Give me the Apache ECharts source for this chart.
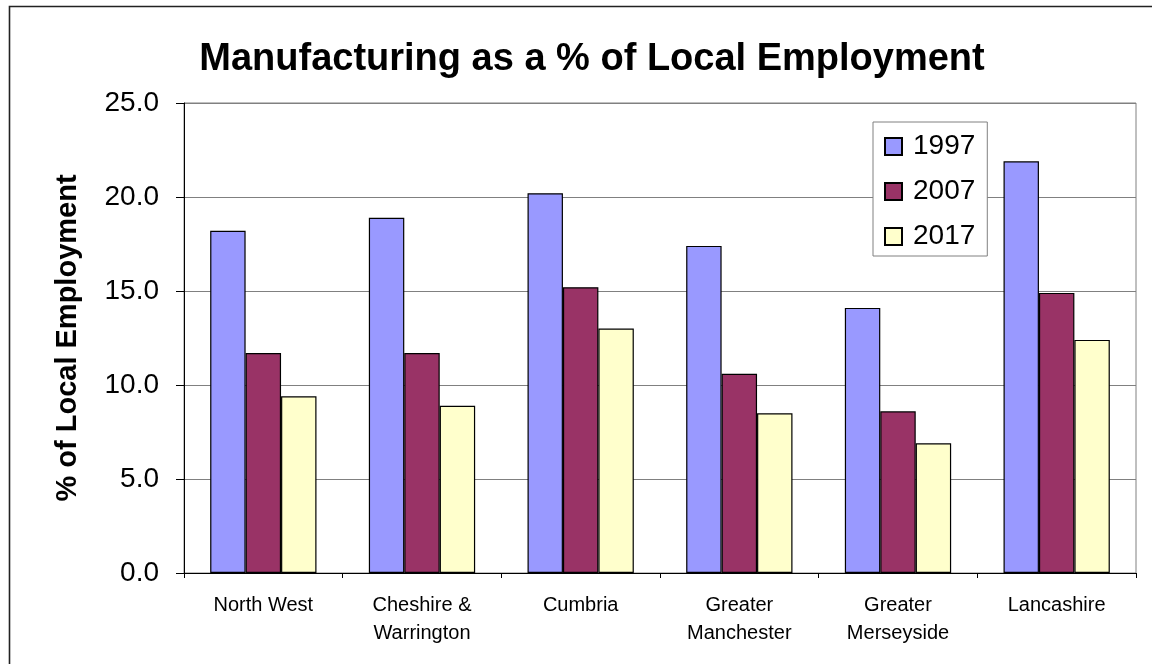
<!DOCTYPE html>
<html>
<head>
<meta charset="utf-8">
<script src="https://cdn.jsdelivr.net/npm/echarts@6/dist/echarts.min.js"></script>
<style>
  html, body { margin: 0; padding: 0; background: #fff; }
  #chart { width: 1152px; height: 664px; }
</style>
</head>
<body>
<div id="chart"></div>
<script>
// Regions and manufacturing share of employment (%)
const categories = ['North West', 'Cheshire &\nWarrington', 'Cumbria', 'Greater\nManchester', 'Greater\nMerseyside', 'Lancashire'];
const seriesNames = ['1997', '2007', '2017'];
const values1997 = [18.2, 18.9, 20.2, 17.4, 14.1, 21.9];
const values2007 = [11.7, 11.7, 15.2, 10.6, 8.6, 14.9];
const values2017 = [9.4, 8.9, 13.0, 8.5, 6.9, 12.4];
const yTicks = { min: 0, max: 25, interval: 5 };

const FONT = 'Liberation Sans, Arial, sans-serif';
const colors = ['#9999FF', '#993366', '#FFFFCC'];
const seriesValues = [values1997, values2007, values2017];

const chart = echarts.init(document.getElementById('chart'), null, { renderer: 'canvas' });

chart.setOption({
  backgroundColor: '#ffffff',
  animation: false,
  title: {
    text: 'Manufacturing as a % of Local Employment',
    left: 587,
    top: 36,
    textAlign: 'center',
    textStyle: { fontFamily: FONT, fontSize: 38, fontWeight: 'bold', color: '#000' }
  },
  legend: {
    orient: 'vertical',
    left: 873,
    top: 122,
    padding: [10, 12, 5, 11],
    itemWidth: 17,
    itemHeight: 17,
    itemGap: 16,
    backgroundColor: '#fff',
    borderColor: '#808080',
    borderWidth: 1,
    icon: 'rect',
    textStyle: { fontFamily: FONT, fontSize: 28, color: '#000', lineHeight: 29, padding: [0, 0, 0, 6] },
    data: seriesNames
  },
  grid: {
    left: 184, right: 16, top: 103, bottom: 91,
    show: true, borderColor: '#808080', borderWidth: 1,
    containLabel: false
  },
  xAxis: {
    type: 'category',
    data: categories,
    axisLine: { lineStyle: { color: '#000', width: 1 } },
    axisTick: { show: true, interval: 0, length: 5, alignWithLabel: false, lineStyle: { color: '#000' } },
    axisLabel: { interval: 0, margin: 18, fontFamily: FONT, fontSize: 20, color: '#000', lineHeight: 28 },
    splitLine: { show: false }
  },
  yAxis: {
    type: 'value',
    min: yTicks.min, max: yTicks.max, interval: yTicks.interval,
    name: '% of Local Employment',
    nameLocation: 'middle',
    nameGap: 102,
    nameTextStyle: { fontFamily: FONT, fontSize: 29, fontWeight: 'bold', color: '#000' },
    axisLine: { show: true, lineStyle: { color: '#000', width: 1 } },
    axisTick: { show: true, length: 8, lineStyle: { color: '#000' } },
    axisLabel: { margin: 25, fontFamily: FONT, fontSize: 28, color: '#000', formatter: v => v.toFixed(1) },
    splitLine: { show: true, lineStyle: { color: '#808080', width: 1 } }
  },
  series: seriesNames.map((name, i) => ({
    name,
    type: 'bar',
    data: seriesValues[i],
    barGap: '0%',
    barCategoryGap: '33%',
    itemStyle: { color: colors[i], borderColor: '#000', borderWidth: 1.2 }
  })),
  graphic: [{
    type: 'rect',
    shape: { x: 9.5, y: 6.5, width: 1200, height: 700 },
    style: { fill: 'none', stroke: '#222', lineWidth: 1.6 },
    silent: true
  }]
});
</script>
</body>
</html>
